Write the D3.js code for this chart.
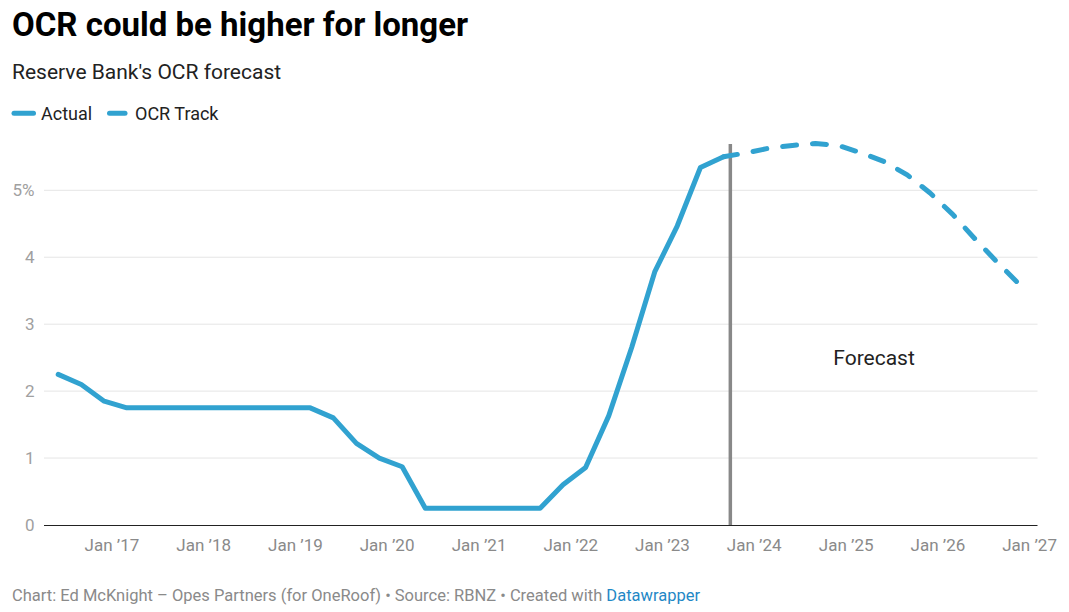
<!DOCTYPE html>
<html>
<head>
<meta charset="utf-8">
<script src="https://cdn.jsdelivr.net/npm/d3@7"></script>
<style>
  html, body { margin: 0; padding: 0; background: #fff; }
  svg { display: block; font-family: Roboto, "Noto Sans", sans-serif; }
</style>
</head>
<body>
<svg id="chart" width="1069" height="612"></svg>
<script>
// ---- Data ----
const actualDates = ["2016-06-01","2016-09-01","2016-12-01","2017-03-01","2017-06-01","2017-09-01","2017-12-01","2018-03-01","2018-06-01","2018-09-01","2018-12-01","2019-03-01","2019-06-01","2019-09-01","2019-12-01","2020-03-01","2020-06-01","2020-09-01","2020-12-01","2021-03-01","2021-06-01","2021-09-01","2021-12-01","2022-03-01","2022-06-01","2022-09-01","2022-12-01","2023-03-01","2023-06-01","2023-09-01"];
const actualValues = [2.25,2.1,1.85,1.75,1.75,1.75,1.75,1.75,1.75,1.75,1.75,1.75,1.6,1.22,1.0,0.87,0.25,0.25,0.25,0.25,0.25,0.25,0.6,0.86,1.63,2.66,3.78,4.47,5.34,5.5];
const trackDates = ["2023-09-01","2023-12-01","2024-03-01","2024-06-01","2024-09-01","2024-12-01","2025-03-01","2025-06-01","2025-09-01","2025-12-01","2026-03-01","2026-06-01","2026-09-01","2026-12-01"];
const trackValues = [5.5,5.56,5.63,5.67,5.7,5.67,5.56,5.43,5.23,4.96,4.64,4.26,3.9,3.56];
const yTicks = [0,1,2,3,4,5];
const xTickYears = [2017,2018,2019,2020,2021,2022,2023,2024,2025,2026,2027];
const forecastDate = "2023-09-28";
const forecastLabelDate = "2025-04-22";

const parse = d3.timeParse("%Y-%m-%d");
const actual = actualDates.map((d,i) => ({date: parse(d), value: actualValues[i]}));
const track = trackDates.map((d,i) => ({date: parse(d), value: trackValues[i]}));

const svg = d3.select("#chart");
const color = "#31a2d0";
const plotLeft = 44, plotRight = 1037.5;

const x = d3.scaleTime()
  .domain([parse(actualDates[0]), parse(trackDates[trackDates.length-1])])
  .range([58.2, 1021.8]);
const y = d3.scaleLinear().domain([0, 5]).range([525, 190.3]);

// ---- Title / subtitle ----
svg.append("text").attr("x", 12).attr("y", 36)
  .attr("font-size", 33).attr("font-weight", 700).attr("fill", "#000")
  .text("OCR could be higher for longer");
svg.append("text").attr("x", 12).attr("y", 79)
  .attr("font-size", 21).attr("fill", "#222")
  .text("Reserve Bank's OCR forecast");

// ---- Legend ----
const legend = svg.append("g");
legend.append("line").attr("x1", 14).attr("x2", 33.5).attr("y1", 113.3).attr("y2", 113.3)
  .attr("stroke", color).attr("stroke-width", 5).attr("stroke-linecap", "round");
legend.append("text").attr("x", 41).attr("y", 119.5).attr("font-size", 18).attr("fill", "#222").text("Actual");
legend.append("line").attr("x1", 109.5).attr("x2", 125).attr("y1", 113.3).attr("y2", 113.3)
  .attr("stroke", color).attr("stroke-width", 5).attr("stroke-linecap", "round");
legend.append("text").attr("x", 135).attr("y", 119.5).attr("font-size", 18).attr("fill", "#222").text("OCR Track");

// ---- Gridlines and y labels ----
const grid = svg.append("g");
grid.selectAll("line").data(yTicks.filter(t => t > 0)).join("line")
  .attr("x1", plotLeft).attr("x2", plotRight)
  .attr("y1", d => y(d)).attr("y2", d => y(d))
  .attr("stroke", "#e5e5e5").attr("stroke-width", 1);
svg.append("g").selectAll("text").data(yTicks).join("text")
  .attr("x", 34.5).attr("y", d => y(d)).attr("dy", "0.35em")
  .attr("text-anchor", "end").attr("font-size", 17).attr("fill", "#a0a0a0")
  .text(d => d === 5 ? "5%" : d);

// ---- X axis ----
svg.append("line").attr("x1", plotLeft).attr("x2", plotRight).attr("y1", 525.5).attr("y2", 525.5)
  .attr("stroke", "#222").attr("stroke-width", 1.2);
const fmt = d => "Jan \u2019" + String(d).slice(2);
svg.append("g").selectAll("text").data(xTickYears).join("text")
  .attr("x", d => x(new Date(d, 0, 1)))
  .attr("y", 551).attr("text-anchor", "middle")
  .attr("font-size", 17).attr("fill", "#8a8a8a")
  .text(fmt);

// ---- Forecast marker ----
svg.append("line")
  .attr("x1", x(parse(forecastDate))).attr("x2", x(parse(forecastDate)))
  .attr("y1", 144).attr("y2", 525)
  .attr("stroke", "#888").attr("stroke-width", 3.5);
svg.append("text").attr("x", x(parse(forecastLabelDate))).attr("y", 365)
  .attr("text-anchor", "middle").attr("font-size", 21).attr("fill", "#222")
  .text("Forecast");

// ---- Lines ----
const line = d3.line().x(d => x(d.date)).y(d => y(d.value));
svg.append("path").datum(track).attr("d", line)
  .attr("fill", "none").attr("stroke", color).attr("stroke-width", 5)
  .attr("stroke-linecap", "round").attr("stroke-linejoin", "round")
  .attr("stroke-dasharray", "14,16");
svg.append("path").datum(actual).attr("d", line)
  .attr("fill", "none").attr("stroke", color).attr("stroke-width", 5)
  .attr("stroke-linecap", "round").attr("stroke-linejoin", "round");

// ---- Footer ----
const foot = svg.append("text").attr("x", 12).attr("y", 601).attr("font-size", 16.5).attr("fill", "#8a8a8a");
foot.append("tspan").text("Chart: Ed McKnight \u2013 Opes Partners (for OneRoof) \u2022 Source: RBNZ \u2022 Created with ");
foot.append("tspan").attr("fill", "#1f88c6").text("Datawrapper");
</script>
</body>
</html>
